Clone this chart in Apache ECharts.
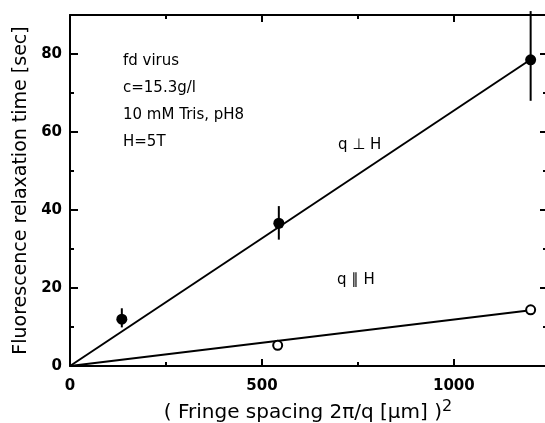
<!DOCTYPE html>
<html>
<head>
<meta charset="utf-8">
<script src="https://cdn.jsdelivr.net/npm/echarts@6/dist/echarts.min.js"></script>
<style>html,body{margin:0;padding:0;background:#fff}#c{width:545px;height:423px}</style>
</head>
<body>
<div id="c"></div>
<script>
// ---- data ----
const xMajorTicks = [0, 500, 1000];
const xMinorTicks = [250, 750];
const yMajorTicks = [0, 20, 40, 60, 80];
const yMinorTicks = [10, 30, 50, 70];
// q perpendicular H (filled)
const perpPoints = [[135, 12.0], [544, 36.6], [1200, 78.5]];
const perpErr = [[135, 9.9, 14.8], [544, 32.4, 41.0], [1200, 68.0, 91.0]];
const perpFit = [[0, 0], [1200, 78.6]];
// q parallel H (open)
const paraPoints = [[541, 5.3], [1200, 14.4]];
const paraFit = [[0, 0], [1200, 14.3]];

const FONT = 'DejaVu Sans';
const black = '#000';

function xAx(pos, ticks, len, showLine, showLabel) {
  return {
    type: 'value', position: pos, min: 0, max: 1240,
    axisLine: { show: showLine, onZero: false, lineStyle: { color: black, width: 2 } },
    axisTick: { show: true, inside: true, length: len, customValues: ticks, lineStyle: { color: black, width: 2 } },
    axisLabel: { show: showLabel, customValues: ticks, formatter: function (v) { return String(v); }, color: black, fontFamily: FONT, fontWeight: 'bold', fontSize: 15, margin: 13 },
    splitLine: { show: false }
  };
}
function yAx(pos, ticks, len, showLine, showLabel) {
  return {
    type: 'value', position: pos, min: 0, max: 90,
    axisLine: { show: showLine, onZero: false, lineStyle: { color: black, width: 2 } },
    axisTick: { show: true, inside: true, length: len, customValues: ticks, lineStyle: { color: black, width: 2 } },
    axisLabel: { show: showLabel, customValues: ticks, formatter: function (v) { return String(v); }, color: black, fontFamily: FONT, fontWeight: 'bold', fontSize: 15, margin: 8 },
    splitLine: { show: false }
  };
}

const xAxes = [
  Object.assign(xAx('bottom', xMajorTicks, 7, true, true), {
    name: '( Fringe spacing 2π/q [μm] ){s|2}', nameLocation: 'middle', nameGap: 31,
    nameTextStyle: { color: black, fontFamily: FONT, fontSize: 20, rich: { s: { fontSize: 16, fontFamily: FONT, color: black, verticalAlign: 'top', padding: [0, 0, 12, 0] } } }
  }),
  xAx('bottom', xMinorTicks, 4, false, false),
  xAx('top', xMajorTicks, 7, true, false),
  xAx('top', xMinorTicks, 4, false, false)
];
const yAxes = [
  Object.assign(yAx('left', yMajorTicks, 8, true, true), {
    name: 'Fluorescence relaxation time [sec]', nameLocation: 'middle', nameGap: 37,
    nameTextStyle: { color: black, fontFamily: FONT, fontSize: 19 }
  }),
  yAx('left', yMinorTicks, 4, false, false),
  yAx('right', yMajorTicks, 6, true, false),
  yAx('right', yMinorTicks, 3, false, false)
];

const chart = echarts.init(document.getElementById('c'), null, { renderer: 'canvas' });
chart.setOption({
  animation: false,
  backgroundColor: '#fff',
  grid: { left: 70, right: -1, top: 15, bottom: 57, containLabel: false, outerBoundsMode: 'none' },
  xAxis: xAxes,
  yAxis: yAxes,
  series: [
    { type: 'line', data: perpFit, showSymbol: false, lineStyle: { color: black, width: 2 }, z: 1 },
    { type: 'line', data: paraFit, showSymbol: false, lineStyle: { color: black, width: 2 }, z: 1 },
    {
      type: 'custom', data: perpErr, clip: false, z: 2,
      encode: { x: 0, y: [1, 2] },
      renderItem: function (params, api) {
        const p1 = api.coord([api.value(0), api.value(1)]);
        const p2 = api.coord([api.value(0), api.value(2)]);
        return { type: 'line', shape: { x1: p1[0], y1: p1[1], x2: p2[0], y2: p2[1] }, style: { stroke: black, lineWidth: 2 } };
      }
    },
    { type: 'scatter', data: perpPoints, symbol: 'circle', symbolSize: 11, itemStyle: { color: black, opacity: 1 }, z: 3 },
    { type: 'scatter', data: paraPoints, symbol: 'circle', symbolSize: 9, itemStyle: { color: '#fff', borderColor: black, borderWidth: 2, opacity: 1 }, z: 3 }
  ],
  graphic: [
    { type: 'text', left: 123, top: 54, style: { text: 'fd virus', font: '15px "DejaVu Sans"', fill: black } },
    { type: 'text', left: 123, top: 81, style: { text: 'c=15.3g/l', font: '15px "DejaVu Sans"', fill: black } },
    { type: 'text', left: 123, top: 108, style: { text: '10 mM Tris, pH8', font: '15px "DejaVu Sans"', fill: black } },
    { type: 'text', left: 123, top: 135, style: { text: 'H=5T', font: '15px "DejaVu Sans"', fill: black } },
    { type: 'text', left: 338, top: 138, style: { text: 'q ⊥ H', font: '15px "DejaVu Sans"', fill: black } },
    { type: 'text', left: 337, top: 273, style: { text: 'q ∥ H', font: '15px "DejaVu Sans"', fill: black } }
  ]
});
</script>
</body>
</html>
